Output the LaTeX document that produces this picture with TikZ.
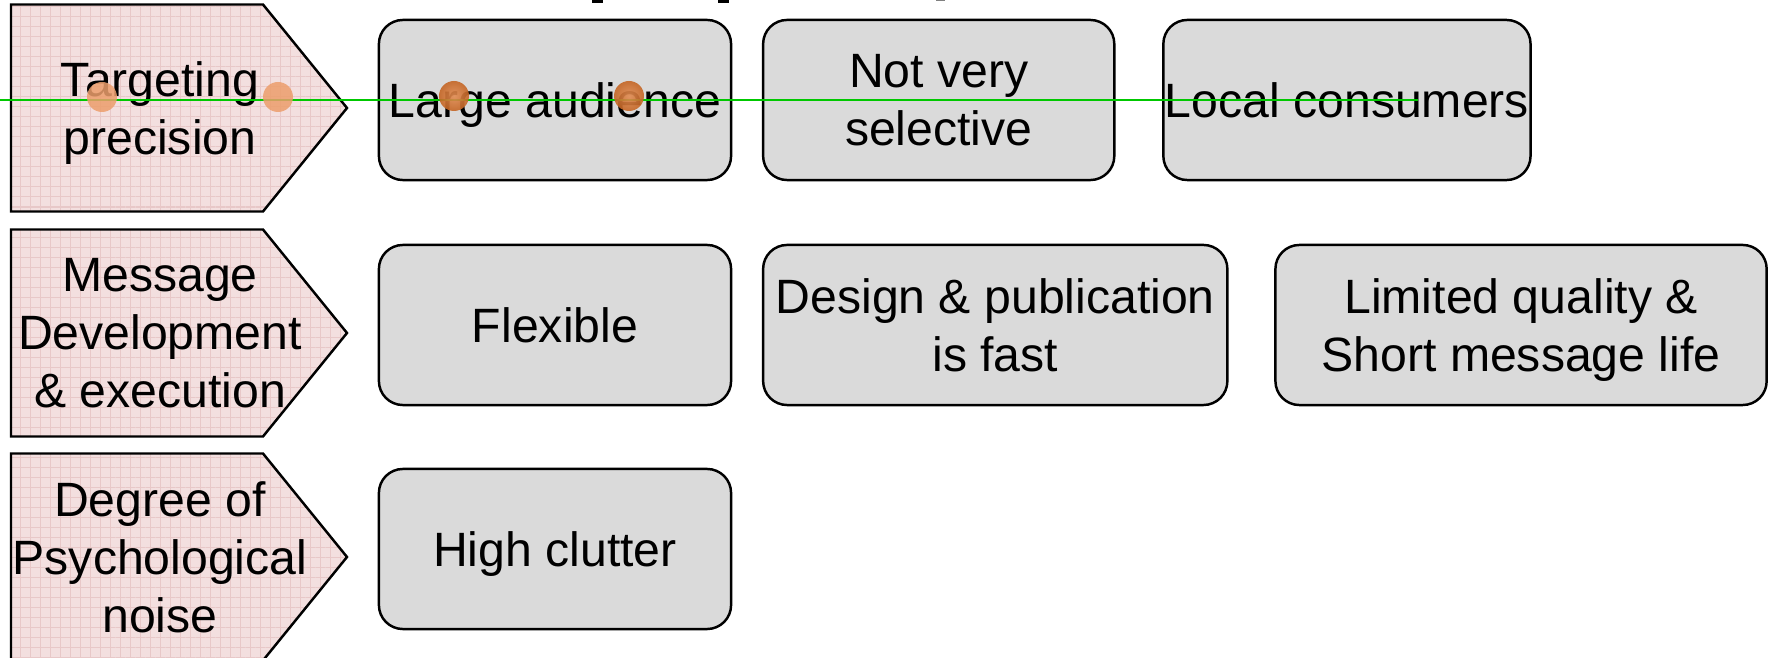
\documentclass[tikz,border=0pt]{standalone}
\usepackage{fontspec}
\setmainfont{Liberation Sans}
\usetikzlibrary{positioning, patterns.meta, shadings}
\definecolor{tagpink}{RGB}{243,223,223}
\definecolor{taggrid}{RGB}{232,200,200}
\definecolor{boxgray}{RGB}{218,218,218}
\definecolor{dotlight}{RGB}{236,158,108}
\definecolor{dotdark}{RGB}{218,112,40}
\definecolor{guidegreen}{RGB}{0,200,0}
\pgfdeclarelayer{background}
\pgfsetlayers{background,main}

% arrow-shaped row header, drawn behind its text node
\newcommand{\tagshape}[1]{%
  \begin{pgfonlayer}{background}
    \draw[tag] ([shift={(-149,-103.5)}]#1.center) -- ([shift={(103,-103.5)}]#1.center)
      -- ([shift={(187,0)}]#1.center) -- ([shift={(103,103.5)}]#1.center)
      -- ([shift={(-149,103.5)}]#1.center) -- cycle;
  \end{pgfonlayer}}

\begin{document}
\begin{tikzpicture}[
  x=0.01cm, y=-0.01cm,
  txt/.style={font=\fontsize{13.7}{16.5}\selectfont, align=center, inner sep=0pt, text depth=0pt},
  tag/.style={draw, line width=0.7pt, preaction={fill=tagpink},
    pattern={Hatch[distance=2.85pt, line width=0.3pt]}, pattern color=taggrid},
  box/.style={txt, draw, line width=0.7pt, outer sep=0pt,
    rounded corners=0.24cm, fill=boxgray, minimum height=1.6cm},
  guide/.style={guidegreen, line width=0.5pt},
]
  \useasboundingbox (0,0) rectangle (1768,658);

  % row headers
  \node[txt] (tgt) at (160,108) {Targeting\\precision};
  \node[txt] (msg) at (160,333) {Message\\Development\\\& execution};
  \node[txt] (noise) at (160,557) {Degree of\\Psychological\\noise};
  \tagshape{tgt}
  \tagshape{msg}
  \tagshape{noise}

  % row 1
  \node[box, minimum width=3.52cm] (aud) at (555,100) {Large audience};
  \node[box, minimum width=3.51cm, right=0.32cm of aud] (sel) {Not very\\selective};
  \node[box, minimum width=3.67cm, right=0.49cm of sel] (loc) {Local consumers};
  % row 2
  \node[box, minimum width=3.52cm] (flex) at (555,325) {Flexible};
  \node[box, minimum width=4.64cm, right=0.32cm of flex] (fast) {Design \& publication\\is fast};
  \node[box, minimum width=4.91cm, right=0.48cm of fast] (life) {Limited quality \&\\Short message life};
  % row 3
  \node[box, minimum width=3.52cm] (clutter) at (555,549) {High clutter};

  % guide line and markers
  \coordinate (gstart) at (0,100);
  \coordinate (gend) at (1418,100);
  \draw[guide] (gstart) -- (gend);
  \foreach \x in {102,278}
    \fill[dotlight, opacity=0.85] (\x,97) circle[radius=15];
  \foreach \x in {454,629}
    \shade[inner color=dotdark!80!white, outer color=dotdark!90!black, opacity=0.9] (\x,96) circle[radius=15];

  % bits of the heading above
  \fill (592,0) rectangle (603,3);
  \fill (718,0) rectangle (729,3);
  \fill[gray] (936,0) rectangle (945,1.5);
\end{tikzpicture}
\end{document}
